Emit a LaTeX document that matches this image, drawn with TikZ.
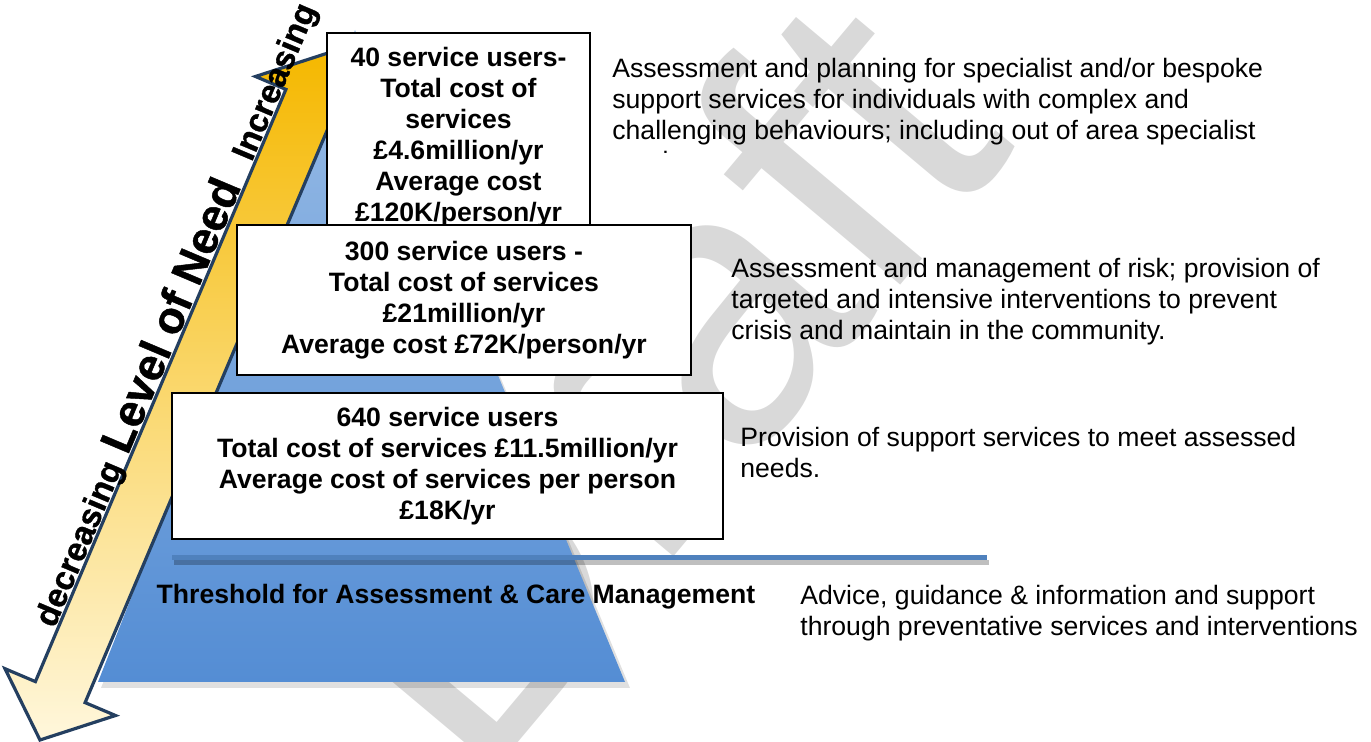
\documentclass[tikz,border=0pt]{standalone}
\usepackage{fontspec}
\setmainfont{Liberation Sans}
\newfontfamily\heavyfont{Liberation Sans}[FakeBold=1]
\usepackage{tikz}
\usetikzlibrary{calc}
\definecolor{pyrtop}{HTML}{9ABDE6}
\definecolor{pyrbot}{HTML}{548DD4}
\definecolor{arrtop}{HTML}{F5B800}
\definecolor{arrbot}{HTML}{FFF7DC}
\definecolor{arredge}{HTML}{243F60}
\definecolor{thrblue}{HTML}{4F81BD}
\definecolor{wmgray}{HTML}{D9D9D9}
\newcommand{\costfont}{\fontsize{13.3}{15.5}\selectfont\bfseries}
\newcommand{\notefont}{\fontsize{13.3}{15.5}\selectfont}
\newcommand{\needfont}[1]{\fontsize{#1}{#1}\heavyfont\bfseries}
\tikzset{
  costbox/.style={draw=black, line width=1pt, fill=white, align=center, inner sep=0pt, font=\costfont},
  note/.style={anchor=north west, align=left, inner sep=0pt, font=\notefont},
  needarrow/.style={draw=arredge, line width=1.6pt, top color=arrtop, bottom color=arrbot},
  threshline/.style={draw=thrblue, line width=2.5pt}
}

\begin{document}
\begin{tikzpicture}[x=0.5pt, y=-0.5pt]
\useasboundingbox (0,0) rectangle (1371,742);
\node[rotate=50, text=wmgray, font=\fontsize{195}{195}\selectfont] (wm) at (640,380) {Draft};
\fill[black, opacity=.12] (101,688) -- (358,36) -- (630,688) -- cycle;
\shade[top color=pyrtop, bottom color=pyrbot] (98,682) -- (355,30) -- (625,682) -- cycle;
\draw[needarrow] (40,740) -- (115.5,715.5) -- (85.1,702.6) -- (335.6,110.4) -- (366,123.3) -- (331,52)
  -- (255.5,76.5) -- (285.9,89.4) -- (35.4,681.6) -- (5,668.7) -- cycle;
\node[rotate=67.07, anchor=base, inner sep=0pt] (needlbl) at (185.6,318.9)
  {\needfont{16.65}decreasing\hspace{6pt}\needfont{22.5}Level of Need\hspace{13pt}\needfont{16.65}Increasing};
\node[costbox, minimum width=131.5pt, minimum height=104pt] (tier1) at (458.5,137)
  {40 service users-\\Total cost of\\services\\£4.6million/yr\\Average cost\\£120K/person/yr};
\node[costbox, minimum width=227pt, minimum height=75pt] (tier2) at (464,300)
  {300 service users -\\Total cost of services\\£21million/yr\\Average cost £72K/person/yr};
\node[costbox, minimum width=275.5pt, minimum height=73pt] (tier3) at (447.5,466)
  {640 service users\\Total cost of services £11.5million/yr\\Average cost of services per person\\£18K/yr};
\coordinate (thrL) at (172,557.5);
\coordinate (thrR) at (987,557.5);
\draw[black, opacity=.25, line width=2.5pt] ($(thrL)+(2,5)$) -- ($(thrR)+(2,5)$);
\draw[threshline] (thrL) -- (thrR);
\node[anchor=base, inner sep=0pt, font=\costfont] (thresh) at (456,603.5) {Threshold for Assessment \& Care Management};
\begin{scope}
\clip (600,40) rectangle (1371,154);
\node[note] (note1) at (612,57.5) {Assessment and planning for specialist and/or bespoke\\support services for individuals with complex and\\challenging behaviours; including out of area specialist\\services.};
\end{scope}
\node[note] (note2) at (731,258) {Assessment and management of risk; provision of\\targeted and intensive interventions to prevent\\crisis and maintain in the community.};
\node[note] (note3) at (740,427) {Provision of support services to meet assessed\\needs.};
\node[note] (note4) at (800,585) {Advice, guidance \& information and support\\through preventative services and interventions};
\end{tikzpicture}
\end{document}
